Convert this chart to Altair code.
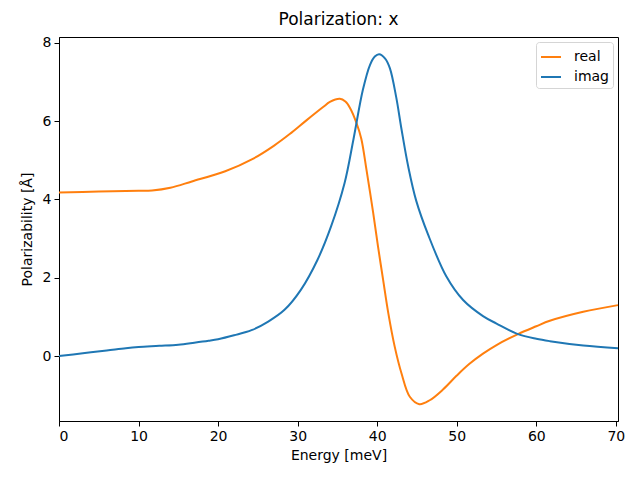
import altair as alt
import pandas as pd

x_real = [0, 5, 10, 11.7, 14, 16.7, 20.9, 24.3, 27, 29, 31.1, 33.2, 34.05, 35.3, 36.0, 36.6, 37.4, 38.0,
          38.65, 39.5, 40.1, 40.75, 41.4, 42.2, 43.05, 44.1, 45.3, 46.6, 48.3, 50, 51.6, 53.3, 55,
          57.7, 60, 61.7, 65.9, 70.27]
real = [4.18, 4.2, 4.22, 4.23, 4.3, 4.46, 4.72, 5.03, 5.37, 5.67, 6.02, 6.36, 6.49, 6.57, 6.5, 6.33, 5.95, 5.55,
        4.76, 3.65, 2.8, 1.94, 1.09, 0.24, -0.44, -1.04, -1.23, -1.13, -0.85, -0.5, -0.2, 0.06, 0.28,
        0.56, 0.76, 0.9, 1.13, 1.3]

x_imag = [0, 3, 6, 8.4, 10, 12.6, 15, 17, 18.8, 20, 22, 24.2, 26.3, 28.35, 30.4, 32.5, 34.2, 35.9, 37.0,
          38.2, 39.1, 39.7, 40.24, 41.0, 41.6, 42.4, 43.05, 43.9, 44.9, 46.4, 48.7, 50.8, 53.3, 55, 57.7,
          60, 61.7, 65.9, 70.27]
imag = [0.0, 0.07, 0.14, 0.2, 0.23, 0.26, 0.29, 0.34, 0.39, 0.43, 0.53, 0.66, 0.88, 1.18, 1.69, 2.46, 3.31, 4.42, 5.52,
        6.8, 7.44, 7.65, 7.71, 7.6, 7.35, 6.6, 5.8, 4.84, 3.97, 3.1, 2.03, 1.43, 1.02, 0.83, 0.56,
        0.44, 0.38, 0.27, 0.2]

series = ["real", "imag"]
colors = ["#ff7f0e", "#1f77b4"]

df = pd.concat([
    pd.DataFrame({"Energy": x_real, "Value": real, "Series": "real"}),
    pd.DataFrame({"Energy": x_imag, "Value": imag, "Series": "imag"}),
])

font = "DejaVu Sans"

chart = alt.Chart(df).mark_line(strokeWidth=2, interpolate="catmull-rom").encode(
    x=alt.X("Energy:Q", title="Energy [meV]",
            scale=alt.Scale(domain=[0, 70.27], nice=False, zero=False),
            axis=alt.Axis(values=[0, 10, 20, 30, 40, 50, 60, 70], grid=False)),
    y=alt.Y("Value:Q", title="Polarizability [Å]",
            scale=alt.Scale(domain=[-1.66, 8.15], nice=False, zero=False),
            axis=alt.Axis(values=[0, 2, 4, 6, 8], grid=False)),
    color=alt.Color("Series:N", scale=alt.Scale(domain=series, range=colors), sort=series,
                    legend=alt.Legend(title=None, orient="top-right", offset=5,
                                      symbolType="stroke", symbolStrokeWidth=2, symbolSize=400,
                                      labelFontSize=14, labelFont=font, padding=4,
                                      cornerRadius=3, strokeColor="#d5d5d5", fillColor="white",
                                      rowPadding=2, labelOffset=12)),
    order=alt.Order("Energy:Q"),
).properties(
    width=559, height=384,
    title=alt.TitleParams("Polarization: x", fontSize=17, font=font, fontWeight="normal", offset=7),
    padding={"left": 51, "top": 29, "right": 14, "bottom": 51},
    autosize="none",
).configure_view(stroke="black", strokeWidth=1).configure_axis(
    domainColor="black", tickColor="black", tickSize=5, labelFontSize=14, titleFontSize=14,
    labelFont=font, titleFont=font, labelColor="black", titleColor="black",
    titleFontWeight="normal", labelPadding=3,
).configure_axisX(titlePadding=5).configure_axisY(titlePadding=8)

chart.save("out.html", embed_options={"renderer": "svg", "actions": False})
